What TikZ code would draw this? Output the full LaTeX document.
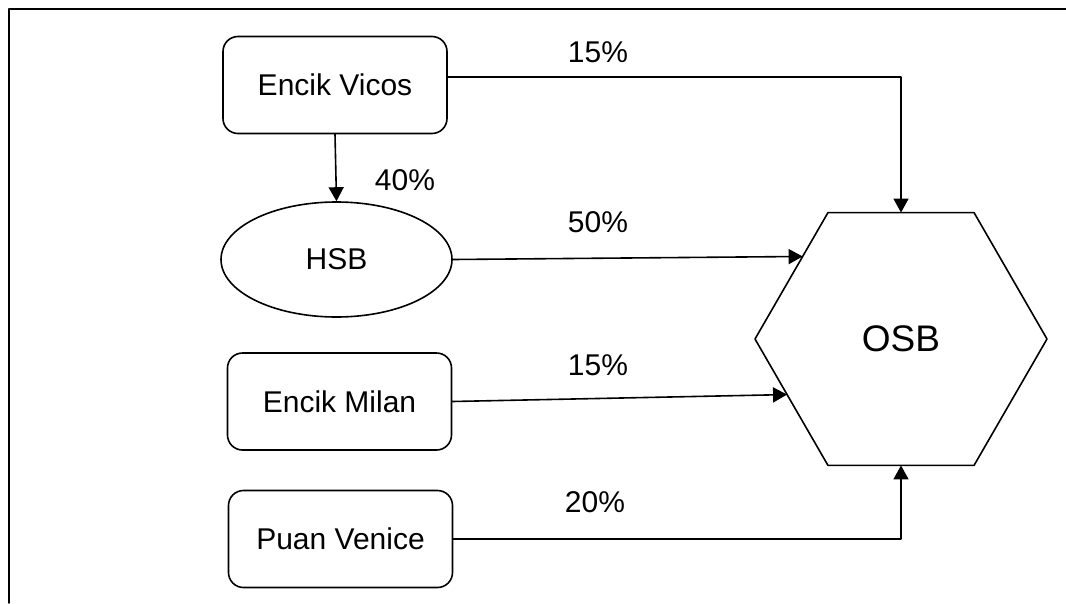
\documentclass[tikz,border=0pt]{standalone}
\usepackage{fontspec}
\setmainfont{Liberation Sans}
\usetikzlibrary{arrows.meta,shapes.geometric}

\tikzset{
  party/.style={draw,rounded corners=15pt,minimum width=224pt,minimum height=97pt,inner sep=0pt},
  pct/.style={font=\fontsize{30}{35}\selectfont,inner sep=0pt}
}

\begin{document}
\begin{tikzpicture}[line cap=round,line join=round,>={Triangle[length=14pt,width=15pt]},x=1pt,y=-1pt,line width=1.6pt,
  font=\fontsize{30}{35}\selectfont]
\useasboundingbox (0,0) rectangle (1066,603);
% frame
\draw (9,603) -- (9,9) -- (1066,9);
% owners
\node[party] (vicos) at (335,85) {Encik Vicos};
\node[draw,ellipse,minimum width=231pt,minimum height=115pt,inner sep=0pt] (hsb) at (336.5,259.5) {HSB};
\node[party] (milan) at (339.5,401.5) {Encik Milan};
\node[party] (venice) at (340.5,539) {Puan Venice};
\node[draw,regular polygon,regular polygon sides=6,minimum size=292pt,inner sep=0pt,outer sep=0pt,
  font=\fontsize{37}{42}\selectfont] (osb) at (901,339) {OSB};
% links
\draw [->] (vicos.4) -| (osb.north);
\draw [->] (vicos.south) -- (hsb.north);
\draw [->] (hsb.east) -- (osb.140);
\draw [->] (milan.east) -- (osb.206);
\draw [->] (venice.east) -| (osb.south);
% shares
\node[pct] (p1) at (598,52) {15\%};
\node[pct] (p2) at (405,180) {40\%};
\node[pct] (p3) at (598,222) {50\%};
\node[pct] (p4) at (598,365) {15\%};
\node[pct] (p5) at (595,502) {20\%};
\end{tikzpicture}
\end{document}
